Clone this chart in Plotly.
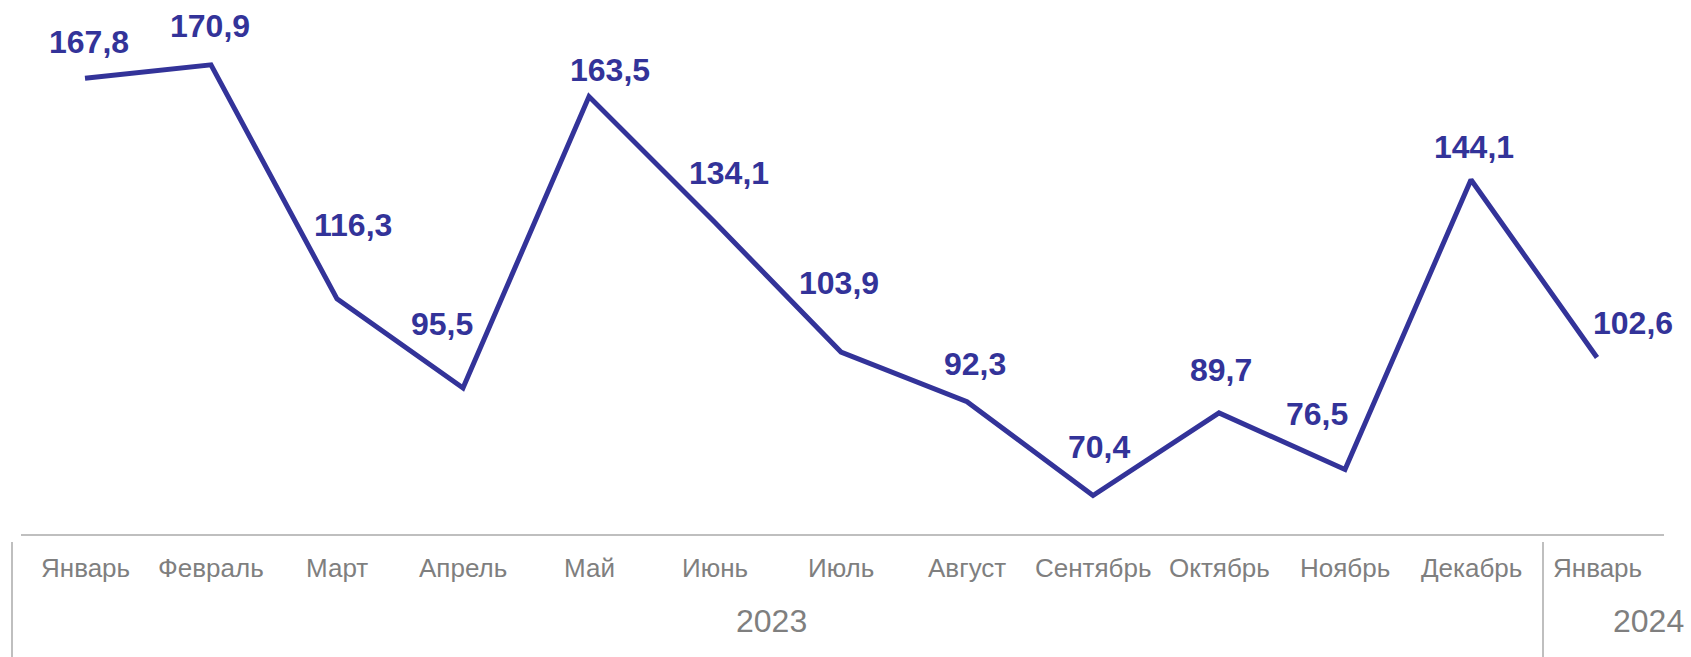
import plotly.graph_objects as go

months = ["Январь", "Февраль", "Март", "Апрель", "Май", "Июнь", "Июль",
          "Август", "Сентябрь", "Октябрь", "Ноябрь", "Декабрь", "Январь"]
years = ["2023", "2024"]
values = [167.8, 170.9, 116.3, 95.5, 163.5, 134.1, 103.9, 92.3, 70.4, 89.7, 76.5, 144.1, 102.6]

# label offsets in pixels (style only)
label_dx = [4, -1, 16, -21, 21, 14, -2, 8, 6, 2, -28, 3, 36]
label_dy = [36, 39, 74, 64, 27, 50, 69, 38, 49, 43, 55, 33, 35]

x = list(range(len(values)))
LINE = "#333399"
GREY = "#7f7f7f"
FONT = "Arial, Liberation Sans, sans-serif"

fig = go.Figure()
fig.add_trace(go.Scatter(x=x, y=values, mode="lines",
                         line=dict(color=LINE, width=5), hoverinfo="skip"))

ann = []
for i, v in enumerate(values):
    ann.append(dict(x=i, y=v, xref="x", yref="y", text=f"{v:.1f}".replace(".", ","),
                    showarrow=False, xanchor="center", yanchor="middle",
                    xshift=label_dx[i], yshift=label_dy[i],
                    font=dict(family=FONT, size=32, color=LINE, weight="bold")))
for i, m in enumerate(months):
    ann.append(dict(x=i, y=0, xref="x", yref="paper", text=m, showarrow=False,
                    xanchor="center", yanchor="middle", yshift=-33,
                    font=dict(family=FONT, size=26, color=GREY)))
ann.append(dict(x=5.5, y=0, xref="x", yref="paper", text=years[0], showarrow=False,
                xanchor="center", yanchor="middle", yshift=-86, xshift=-7,
                font=dict(family=FONT, size=32, color=GREY)))
ann.append(dict(x=1, y=0, xref="paper", yref="paper", text=years[1], showarrow=False,
                xanchor="right", yanchor="middle", yshift=-86, xshift=26,
                font=dict(family=FONT, size=32, color=GREY)))

L, R, T, B = 22, 31, 10, 122
W, H = 1691, 657
pw, ph = W - L - R, H - T - B

def px_x(p):
    return (p - L) / pw

def px_y(p):
    return (H - B - p) / ph

shapes = [
    dict(type="line", xref="paper", yref="paper", x0=px_x(12), x1=px_x(12),
         y0=px_y(542), y1=px_y(657), line=dict(color="#bfbfbf", width=2)),
    dict(type="line", xref="paper", yref="paper", x0=px_x(1543), x1=px_x(1543),
         y0=px_y(542), y1=px_y(657), line=dict(color="#bfbfbf", width=2)),
    dict(type="line", xref="paper", yref="paper", x0=px_x(21), x1=px_x(1664),
         y0=0, y1=0, line=dict(color="#bfbfbf", width=2)),
]

fig.update_layout(
    width=W, height=H,
    margin=dict(l=L, r=R, t=T, b=B),
    paper_bgcolor="white", plot_bgcolor="white",
    showlegend=False,
    xaxis=dict(range=[-0.5, 12.5], showticklabels=False, showgrid=False,
               zeroline=False, showline=False, ticks=""),
    yaxis=dict(range=[61.2, 183.7], visible=False, showgrid=False, zeroline=False),
    annotations=ann,
    shapes=shapes,
)
fig.write_html("out.html", config={"displayModeBar": False},
               post_script="document.body.style.margin='0';document.body.style.overflow='hidden';")
